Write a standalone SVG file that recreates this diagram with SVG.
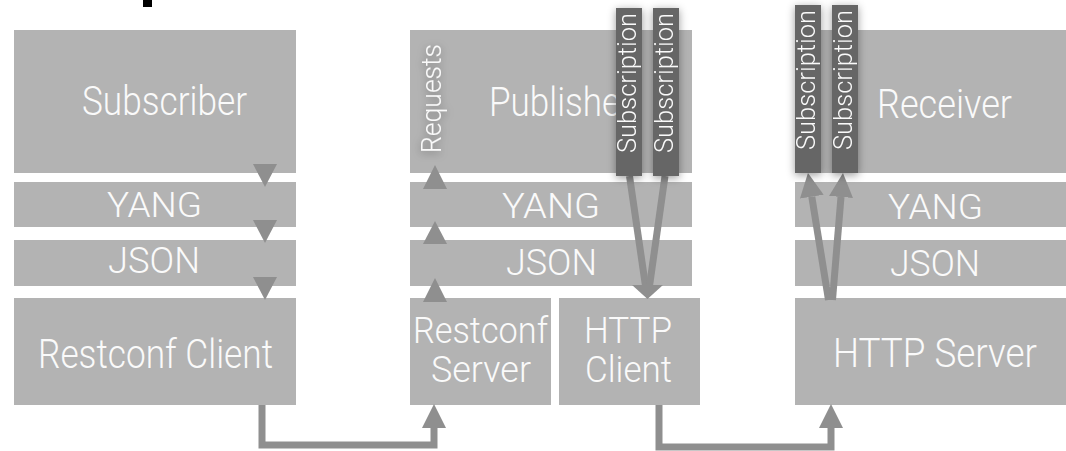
<svg xmlns="http://www.w3.org/2000/svg" width="1066" height="451" viewBox="0 0 1066 451">
<style>
.box{fill:#b3b3b3}
.lbl{fill:#fafafa;font-family:Roboto,"Liberation Sans",Arial,sans-serif;font-weight:300}
.sub{fill:#666666}
.tri{fill:#8f8f8f}
.ln{stroke:#8f8f8f;stroke-width:7;fill:none}
</style>
<defs>
<filter id="sh" x="-50%" y="-20%" width="200%" height="140%">
<feDropShadow dx="0" dy="2" stdDeviation="4" flood-color="#000" flood-opacity="0.4"/>
</filter>
<marker id="ah" viewBox="0 0 24 24" markerWidth="24" markerHeight="24" refX="0" refY="12" orient="auto" markerUnits="userSpaceOnUse">
<path d="M0,0 L24,12 L0,24 z" fill="#8f8f8f"/>
</marker>
</defs>
<rect x="143" y="0" width="9" height="7" fill="#000"/>
<g id="subscriber">
<rect class="box" x="14" y="30" width="282" height="143"/>
<text class="lbl" x="82" y="115" font-size="40" textLength="165" lengthAdjust="spacingAndGlyphs">Subscriber</text>
</g>
<g id="sub-yang">
<rect class="box" x="14" y="182" width="282" height="45"/>
<text class="lbl" x="107" y="217" font-size="35" textLength="95" lengthAdjust="spacingAndGlyphs">YANG</text>
</g>
<g id="sub-json">
<rect class="box" x="14" y="240" width="282" height="46"/>
<text class="lbl" x="108" y="273" font-size="36" textLength="92" lengthAdjust="spacingAndGlyphs">JSON</text>
</g>
<g id="restconf-client">
<rect class="box" x="14" y="298" width="282" height="107"/>
<text class="lbl" x="38" y="368" font-size="40" textLength="235" lengthAdjust="spacingAndGlyphs">Restconf Client</text>
</g>
<g id="publisher">
<rect class="box" x="410" y="30" width="282" height="143"/>
<text class="lbl" x="489" y="116" font-size="40" textLength="143" lengthAdjust="spacingAndGlyphs">Publisher</text>
</g>
<g id="pub-yang">
<rect class="box" x="410" y="182" width="282" height="45"/>
<text class="lbl" x="502" y="218" font-size="35" textLength="98" lengthAdjust="spacingAndGlyphs">YANG</text>
</g>
<g id="pub-json">
<rect class="box" x="410" y="240" width="282" height="46"/>
<text class="lbl" x="506" y="275" font-size="36" textLength="91" lengthAdjust="spacingAndGlyphs">JSON</text>
</g>
<g id="restconf-server">
<rect class="box" x="410" y="298" width="141" height="107"/>
<text class="lbl" x="413" y="343" font-size="37" textLength="135" lengthAdjust="spacingAndGlyphs">Restconf</text>
<text class="lbl" x="431" y="382" font-size="37" textLength="100" lengthAdjust="spacingAndGlyphs">Server</text>
</g>
<g id="http-client">
<rect class="box" x="559" y="298" width="141" height="107"/>
<text class="lbl" x="584" y="343" font-size="37" textLength="88" lengthAdjust="spacingAndGlyphs">HTTP</text>
<text class="lbl" x="585" y="382" font-size="37" textLength="87" lengthAdjust="spacingAndGlyphs">Client</text>
</g>
<g id="receiver">
<rect class="box" x="795" y="30" width="271" height="143"/>
<text class="lbl" x="877" y="118" font-size="40" textLength="135" lengthAdjust="spacingAndGlyphs">Receiver</text>
</g>
<g id="rec-yang">
<rect class="box" x="795" y="182" width="271" height="45"/>
<text class="lbl" x="888" y="219" font-size="35" textLength="95" lengthAdjust="spacingAndGlyphs">YANG</text>
</g>
<g id="rec-json">
<rect class="box" x="795" y="240" width="271" height="46"/>
<text class="lbl" x="890" y="276" font-size="36" textLength="90" lengthAdjust="spacingAndGlyphs">JSON</text>
</g>
<g id="http-server">
<rect class="box" x="795" y="298" width="271" height="107"/>
<text class="lbl" x="833" y="367" font-size="40" textLength="204" lengthAdjust="spacingAndGlyphs">HTTP Server</text>
</g>
<g id="requests" filter="url(#sh)">
<text class="lbl" transform="translate(441,153) rotate(-90)" font-size="27" textLength="109" lengthAdjust="spacingAndGlyphs">Requests</text>
</g>
<g id="connectors">
<polygon class="tri" points="253,164 277,164 265,187"/>
<polygon class="tri" points="253,220 277,220 265,243"/>
<polygon class="tri" points="253,277 277,277 265,300"/>
<polygon class="tri" points="423,189 447,189 435,165"/>
<polygon class="tri" points="423,244 447,244 435,221"/>
<polygon class="tri" points="423,302 447,302 435,278"/>
<path class="ln" d="M262,405 V445 H434 V428" marker-end="url(#ah)"/>
<path class="ln" d="M659,405 V447 H831 V428" marker-end="url(#ah)"/>
<path class="ln" d="M629.5,176 L645.5,286"/>
<path class="ln" d="M665,176 L649.5,286"/>
<polygon class="tri" points="632,285 663,285 647.5,299"/>
<path class="ln" d="M828.5,300 L811.8,196.7" marker-end="url(#ah)"/>
<path class="ln" d="M832.5,300 L841,196.9" marker-end="url(#ah)"/>
</g>
<g id="subscription-1" filter="url(#sh)">
<rect class="sub" x="616" y="8" width="26" height="168"/>
<text class="lbl" transform="translate(636,153) rotate(-90)" font-size="26" textLength="140" lengthAdjust="spacingAndGlyphs">Subscription</text>
</g>
<g id="subscription-2" filter="url(#sh)">
<rect class="sub" x="653" y="8" width="26" height="168"/>
<text class="lbl" transform="translate(673,153) rotate(-90)" font-size="26" textLength="140" lengthAdjust="spacingAndGlyphs">Subscription</text>
</g>
<g id="subscription-3" filter="url(#sh)">
<rect class="sub" x="795" y="5" width="26" height="168"/>
<text class="lbl" transform="translate(815,150) rotate(-90)" font-size="26" textLength="140" lengthAdjust="spacingAndGlyphs">Subscription</text>
</g>
<g id="subscription-4" filter="url(#sh)">
<rect class="sub" x="832" y="5" width="26" height="168"/>
<text class="lbl" transform="translate(852,150) rotate(-90)" font-size="26" textLength="140" lengthAdjust="spacingAndGlyphs">Subscription</text>
</g>
</svg>
